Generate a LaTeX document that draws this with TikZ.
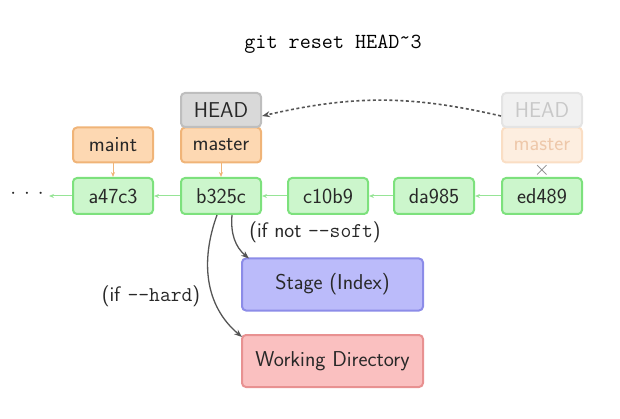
\documentclass[tikz,border=0pt]{standalone}
\usepackage{fontspec}
\usetikzlibrary{arrows.meta}
\definecolor{cfill}{RGB}{204,246,204}
\definecolor{cdraw}{RGB}{125,225,125}
\definecolor{carr}{RGB}{150,228,150}
\definecolor{bfill}{RGB}{253,216,178}
\definecolor{bdraw}{RGB}{240,180,120}
\definecolor{hfill}{RGB}{217,217,217}
\definecolor{hdraw}{RGB}{190,190,190}
\definecolor{sfill}{RGB}{187,187,250}
\definecolor{sdraw}{RGB}{140,140,232}
\definecolor{wfill}{RGB}{250,192,192}
\definecolor{wdraw}{RGB}{232,145,145}
\definecolor{txt}{RGB}{40,40,40}
\definecolor{arr}{RGB}{85,85,85}
\definecolor{ghfill}{RGB}{241,241,241}
\definecolor{ghdraw}{RGB}{228,228,228}
\definecolor{ghtxt}{RGB}{200,200,200}
\definecolor{gbfill}{RGB}{253,238,224}
\definecolor{gbdraw}{RGB}{250,222,196}
\definecolor{gbtxt}{RGB}{238,200,170}
\begin{document}
\begin{tikzpicture}[x=1pt,y=-1pt,
  bigfont/.style={font=\fontsize{21.5}{25}\selectfont\sffamily},
  box/.style={rounded corners=4pt, line width=2pt, inner sep=0pt, minimum width=80pt, bigfont, text=txt},
  commit/.style={box, fill=cfill, draw=cdraw, minimum height=36pt},
  branch/.style={box, fill=bfill, draw=bdraw, minimum height=35pt},
  headbox/.style={box, fill=hfill, draw=hdraw, minimum height=34pt},
  ghosthead/.style={box, fill=ghfill, draw=ghdraw, text=ghtxt, minimum height=34pt},
  ghostbranch/.style={box, fill=gbfill, draw=gbdraw, text=gbtxt, minimum height=35pt},
  area/.style={box, minimum width=181pt, minimum height=52pt},
  carrow/.style={draw=carr, line width=1pt, -{Stealth[length=5pt,width=4pt]}},
  barrow/.style={draw=bdraw, line width=1pt, -{Stealth[length=5pt,width=4pt]}},
  curv/.style={draw=arr, line width=1.3pt, -{Stealth[length=8pt,width=6pt]}},
  lbl/.style={font=\fontsize{21}{25}\selectfont\sffamily, text=txt, inner sep=0pt}
]
\useasboundingbox (0,0) rectangle (620,419);
\node (title) at (333,44) {\fontsize{21.5}{25}\selectfont\ttfamily git reset HEAD\raisebox{.45ex}{\textasciitilde}3};

\node[commit] (a47c3) at (113,196) {a47c3};
\node[commit] (b325c) at (221,196) {b325c};
\node[commit] (c10b9) at (328,196) {c10b9};
\node[commit] (da985) at (434,196) {da985};
\node[commit] (ed489) at (542,196) {ed489};

\node[branch] (maint) at (113,145) {maint};
\node[branch] (master) at (221,145) {master};
\node[headbox] (head) at (221,110) {HEAD};

\node[ghostbranch] (gmaster) at (542,145) {master};
\node[ghosthead] (ghead) at (542,110) {HEAD};
\node[text=gray, font=\fontsize{20}{20}\selectfont, inner sep=0pt] (xmark) at (542,170) {$\times$};

\node[text=txt, font=\fontsize{22}{24}\selectfont, inner sep=0pt] (dots) at (27,194) {$\cdot\,\cdot\,\cdot$};
\coordinate (dotsend) at (49,196);

\node[area, fill=sfill, draw=sdraw] (stage) at (332.5,284.5) {Stage (Index)};
\node[area, fill=wfill, draw=wdraw] (wd) at (332.5,361) {Working Directory};

\node[lbl] (soft) at (315,232) {(if not \texttt{-{}-soft})};
\node[lbl] (hard) at (151,296) {(if \texttt{-{}-hard})};

\draw[carrow] (ed489) -- (da985);
\draw[carrow] (da985) -- (c10b9);
\draw[carrow] (c10b9) -- (b325c);
\draw[carrow] (b325c) -- (a47c3);
\draw[carrow] (a47c3) -- (dotsend);

\draw[barrow] (maint) -- (a47c3);
\draw[barrow] (master) -- (b325c);

\draw[curv, line width=1.6pt, dash pattern=on 3pt off 2.5pt] ([yshift=-6pt]ghead.west) to[bend right=13] ([yshift=-6pt]head.east);

\draw[curv] ([xshift=11pt]b325c.south) to[out=-95, in=140] ([xshift=8pt,yshift=-1pt]stage.north west);
\draw[curv] ([xshift=-4pt]b325c.south) to[out=-110, in=140] ([xshift=1pt,yshift=-3pt]wd.north west);
\end{tikzpicture}
\end{document}
